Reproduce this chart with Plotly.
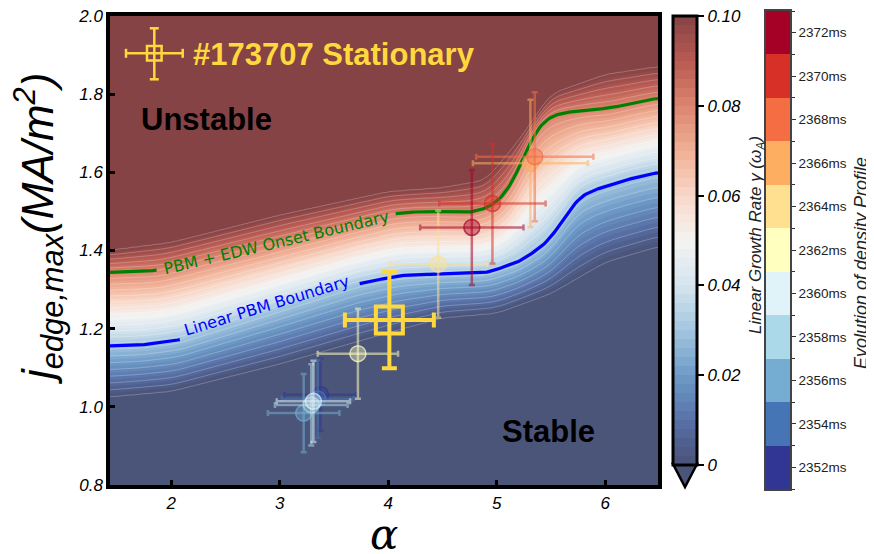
import numpy as np
import plotly.graph_objects as go

# ---------------- data ----------------
times = [2352, 2354, 2356, 2358, 2360, 2362, 2364, 2366, 2368, 2370, 2372]
time_colors = ['#313695', '#4575b4', '#74add1', '#abd9e9', '#e0f3f8', '#ffffbf',
               '#fee090', '#fdae61', '#f46d43', '#d73027', '#a50026']
alpha_vals = [3.375, 3.35, 3.22, 3.29, 3.31, 3.72, 4.46, 5.31, 5.35, 4.96, 4.77]
jedge_vals = [1.031, 1.02, 0.984, 1.005, 1.014, 1.136, 1.365, 1.623, 1.64, 1.52, 1.459]
alpha_err = [0.333, 0.33, 0.33, 0.335, 0.338, 0.37, 0.45, 0.53, 0.54, 0.49, 0.476]
jedge_err = [0.092, 0.10, 0.10, 0.104, 0.104, 0.115, 0.137, 0.163, 0.165, 0.153, 0.147]

stat_alpha = [4.01]
stat_j = [1.222]
stat_alpha_err = [0.41]
stat_j_err = [0.123]

# Linear PBM boundary (blue)
blue_alpha = [1.435, 1.72, 2.08, 2.9, 3.72, 4.107, 4.477, 4.907, 5.214, 5.46, 5.613, 5.736, 5.86, 6.044, 6.25, 6.486]
blue_j = [1.156, 1.158, 1.171, 1.243, 1.315, 1.336, 1.340, 1.343, 1.372, 1.419, 1.478, 1.530, 1.551, 1.568, 1.585, 1.600]
blue_label_range = [2.08, 3.72]
# PBM + EDW onset boundary (green)
green_alpha = [1.435, 1.88, 3.0, 4.06, 4.29, 4.477, 4.753, 4.94, 5.0, 5.12, 5.2, 5.28, 5.37, 5.45, 5.58, 5.83, 6.04, 6.3, 6.486]
green_j = [1.344, 1.349, 1.424, 1.495, 1.4995, 1.4995, 1.497, 1.512, 1.525, 1.56, 1.61, 1.66, 1.71, 1.735, 1.751, 1.76, 1.764, 1.78, 1.79]
green_label_range = [1.88, 4.06]
# lower (gamma = 0) and upper (gamma = 0.1) edges of the growth-rate band
lo_alpha = [1.435, 2.0, 3.0, 4.0, 4.5, 5.0, 5.5, 6.0, 6.486]
lo_j = [1.026, 1.04, 1.11, 1.19, 1.228, 1.24, 1.29, 1.37, 1.41]
hi_alpha = [1.435, 2.0, 3.0, 4.0, 4.5, 4.9, 5.2, 5.5, 6.0, 6.486]
hi_j = [1.40, 1.42, 1.49, 1.55, 1.56, 1.58, 1.68, 1.80, 1.85, 1.87]
edge_gamma = [0.0, 0.03, 0.08, 0.10]   # gamma on lo, blue, green, hi edges

cb_ticks = [0, 0.02, 0.04, 0.06, 0.08, 0.10]
cb_ticktext = ['0', '0.02', '0.04', '0.06', '0.08', '0.10']
x_ticks = [2, 3, 4, 5, 6]
y_ticks = [0.8, 1.0, 1.2, 1.4, 1.6, 1.8, 2.0]

# ---------------- field on a grid ----------------
A = np.linspace(1.435, 6.486, 260)
J = np.linspace(0.8, 2.0, 320)


def curve(ax, ay, w=9):
    y = np.interp(A, ax, ay)
    yp = np.pad(y, w // 2, mode='edge')
    return np.convolve(yp, np.ones(w) / w, mode='valid')


lo_c = curve(lo_alpha, lo_j)
bl_c = curve(blue_alpha, blue_j)
gr_c = curve(green_alpha, green_j)
hi_c = curve(hi_alpha, hi_j)

Z = np.empty((len(J), len(A)))
for i in range(len(A)):
    jp = [lo_c[i] - 0.2, lo_c[i], bl_c[i], gr_c[i], hi_c[i], hi_c[i] + 0.2]
    gp = [edge_gamma[0] - 0.02] + edge_gamma + [edge_gamma[-1] + 0.02]
    Z[:, i] = np.interp(J, jp, gp)

# ---------------- layout helpers (reference pixels -> paper) ----------------
W, H = 874, 554
OFF = 8            # page body margin of the html page
L, T, R, B = 110, 11, 870, 489
PW, PH = R - L, B - T


def px(x):
    return (x - L) / PW


def py(y):
    return (B - y) / PH


def rgba(h, a):
    h = h.lstrip('#')
    return 'rgba(%d,%d,%d,%.2f)' % (int(h[0:2], 16), int(h[2:4], 16), int(h[4:6], 16), a)


cscale = [
    [0.00, '#4B5479'], [0.05, '#4F5F8E'], [0.10, '#5872A8'], [0.20, '#6E9BC8'],
    [0.30, '#A3C6DF'], [0.40, '#D6E5EF'], [0.50, '#F4F3F2'], [0.60, '#F8D8C8'],
    [0.70, '#F0B096'], [0.80, '#DC8570'], [0.90, '#B95A52'], [1.00, '#854345'],
]

fig = go.Figure()

fig.add_trace(go.Contour(
    x=A, y=J, z=Z, zmin=0, zmax=0.1, colorscale=cscale,
    contours=dict(start=0, end=0.1, size=0.002, coloring='fill'),
    line=dict(width=0), hoverinfo='skip',
    colorbar=dict(x=px(673), xanchor='left', xpad=0, y=py(16), yanchor='top', ypad=0,
                  len=449, lenmode='pixels', thickness=24, thicknessmode='pixels',
                  outlinewidth=3, outlinecolor='black', ticklabeloverflow='allow',
                  tickvals=cb_ticks, ticktext=cb_ticktext, ticks='outside', ticklen=6,
                  tickwidth=2, tickcolor='black',
                  tickfont=dict(size=17, style='italic', family='Liberation Sans', color='black')),
))
fig.add_trace(go.Contour(
    x=A, y=J, z=Z, showscale=False,
    contours=dict(start=0.0, end=0.1, size=0.004, coloring='none'),
    line=dict(width=0.7, color='rgba(255,255,255,0.35)'), hoverinfo='skip',
))

# boundary lines with gaps for the inline labels
bl_line = np.where((A > blue_label_range[0]) & (A < blue_label_range[1]), np.nan, bl_c)
gr_line = np.where((A > green_label_range[0]) & (A < green_label_range[1]), np.nan, gr_c)
fig.add_trace(go.Scatter(x=A, y=gr_line, mode='lines', line=dict(color='#008000', width=3.2),
                         showlegend=False, hoverinfo='skip'))
fig.add_trace(go.Scatter(x=A, y=bl_line, mode='lines', line=dict(color='#0000FF', width=3.2),
                         showlegend=False, hoverinfo='skip'))

# time evolution points
for t, c, a, j, da, dj in zip(times, time_colors, alpha_vals, jedge_vals, alpha_err, jedge_err):
    fig.add_trace(go.Scatter(
        x=[a], y=[j], mode='markers', showlegend=False, name='%dms' % t,
        marker=dict(size=16, color=rgba(c, 0.4), line=dict(color=rgba(c, 0.7), width=1.5)),
        error_x=dict(type='data', array=[da], color=rgba(c, 0.55), thickness=2.5, width=3),
        error_y=dict(type='data', array=[dj], color=rgba(c, 0.55), thickness=2.5, width=3),
    ))

GOLD = '#FFD83F'
fig.add_trace(go.Scatter(
    x=stat_alpha, y=stat_j, mode='markers', showlegend=False,
    marker=dict(symbol='square-open', size=27, color=GOLD, line=dict(color=GOLD, width=4)),
    error_x=dict(type='data', array=stat_alpha_err, color=GOLD, thickness=4, width=7.5),
    error_y=dict(type='data', array=stat_j_err, color=GOLD, thickness=4, width=7.5),
))

# time colour strip (second colorbar) as a heatmap on its own axes
n = len(times)
strip_scale = []
for i, c in enumerate(time_colors):
    strip_scale.append([i / n, c])
    strip_scale.append([(i + 1) / n, c])
fig.add_trace(go.Heatmap(
    x=[0], y=times, z=[[t] for t in times], zmin=times[0] - 1, zmax=times[-1] + 1,
    colorscale=strip_scale, showscale=False, xaxis='x2', yaxis='y2', hoverinfo='skip',
))

ann = []
BASE = 'Liberation Sans'
ann.append(dict(x=px(206.7), y=py(119), text='<b>Unstable</b>',
                font=dict(family=BASE, size=31, color='black')))
ann.append(dict(x=px(548.5), y=py(431), text='<b>Stable</b>',
                font=dict(family=BASE, size=31, color='black')))
ann.append(dict(x=px(190.7), y=py(54.5), xanchor='left', text='<b>#173707 Stationary</b>',
                font=dict(family=BASE, size=31, color=GOLD)))
ann.append(dict(x=px(276.7), y=py(242.5), text='PBM + EDW Onset Boundary', textangle=-13.3,
                font=dict(family='DejaVu Sans', size=16, color='#008000')))
ann.append(dict(x=px(266.7), y=py(305.5), text='Linear PBM Boundary', textangle=-17,
                font=dict(family='DejaVu Sans', size=16, color='#0000FF')))
ann.append(dict(x=px(384), y=py(534), text='α',
                font=dict(family='DejaVu Serif', size=42, style='italic', color='black')))
ann.append(dict(x=px(38), y=py(229), textangle=-90,
                text='j<sub>edge,max</sub>(MA/m<sup>2</sup>)',
                font=dict(family=BASE, size=44, style='italic', color='black')))
ann.append(dict(x=px(757), y=py(235), textangle=-90,
                text='Linear Growth Rate γ (ω<sub>A</sub>)',
                font=dict(family=BASE, size=17, style='italic', color='#222')))
ann.append(dict(x=px(861), y=py(263), textangle=-90,
                text='Evolution of density Profile',
                font=dict(family=BASE, size=18, style='italic', color='#222')))
for a in ann:
    a.setdefault('xanchor', 'center')
    a.update(xref='paper', yref='paper', yanchor='middle', showarrow=False)

shapes = []
# extend-min triangle of the growth-rate colour bar
shapes.append(dict(type='path', xref='paper', yref='paper',
                   path='M %f,%f L %f,%f L %f,%f Z' % (px(673), py(464), px(697), py(464), px(685), py(487)),
                   fillcolor='#4B5479', line=dict(color='black', width=2.5)))
# legend glyph for the stationary point
cx, cy = 154.3, 53.3
gl = dict(color=GOLD, width=2.5)
for (x0, y0, x1, y1) in [(126, cy, 182.7, cy), (cx, 28.3, cx, 79.3),
                         (126, cy - 4.5, 126, cy + 4.5), (182.7, cy - 4.5, 182.7, cy + 4.5),
                         (cx - 4.5, 28.3, cx + 4.5, 28.3), (cx - 4.5, 79.3, cx + 4.5, 79.3)]:
    shapes.append(dict(type='line', xref='paper', yref='paper', x0=px(x0), y0=py(y0),
                       x1=px(x1), y1=py(y1), line=gl))
shapes.append(dict(type='rect', xref='paper', yref='paper', x0=px(cx - 7.3), y0=py(cy - 7.3),
                   x1=px(cx + 7.3), y1=py(cy + 7.3), line=gl))

tickfont = dict(family=BASE, size=17, style='italic', color='black')
axis_common = dict(showline=True, linewidth=3.5, linecolor='black', mirror=True, ticks='inside',
                   ticklen=5, tickwidth=2.5, tickcolor='black', showgrid=False, zeroline=False,
                   tickfont=tickfont, automargin=False, ticklabeloverflow='allow')

fig.update_layout(
    width=W, height=H,
    margin=dict(l=L - OFF, r=W - (R - OFF), t=T - OFF, b=H - (B - OFF), autoexpand=False),
    paper_bgcolor='white', plot_bgcolor='white', showlegend=False,
    xaxis=dict(domain=[0, px(658)], range=[1.435, 6.486], tickvals=x_ticks, **axis_common),
    yaxis=dict(domain=[py(485), py(16)], range=[0.8, 2.0], tickvals=y_ticks,
               ticktext=['%.1f' % v for v in y_ticks], **axis_common),
    xaxis2=dict(domain=[px(766), px(790)], anchor='y2', range=[-0.5, 0.5], showticklabels=False,
                ticks='', showgrid=False, zeroline=False, showline=True, linecolor='#444',
                linewidth=1.5, mirror=True, automargin=False),
    yaxis2=dict(domain=[0, 1], anchor='x2', side='right', range=[times[0] - 1, times[-1] + 1],
                tickvals=times, ticktext=['%dms' % t for t in times], ticks='outside',
                ticklen=4, tickwidth=1, tickcolor='#333', showgrid=False, zeroline=False,
                showline=True, linecolor='#444', linewidth=1.5, mirror=True, automargin=False,
                ticklabeloverflow='allow',
                tickfont=dict(family=BASE, size=13.5, color='#222'),
                minor=dict(ticks='outside', ticklen=3, tick0=times[0] - 1, dtick=2, tickcolor='#333')),
    annotations=ann, shapes=shapes,
)

fig.write_html('out.html')
